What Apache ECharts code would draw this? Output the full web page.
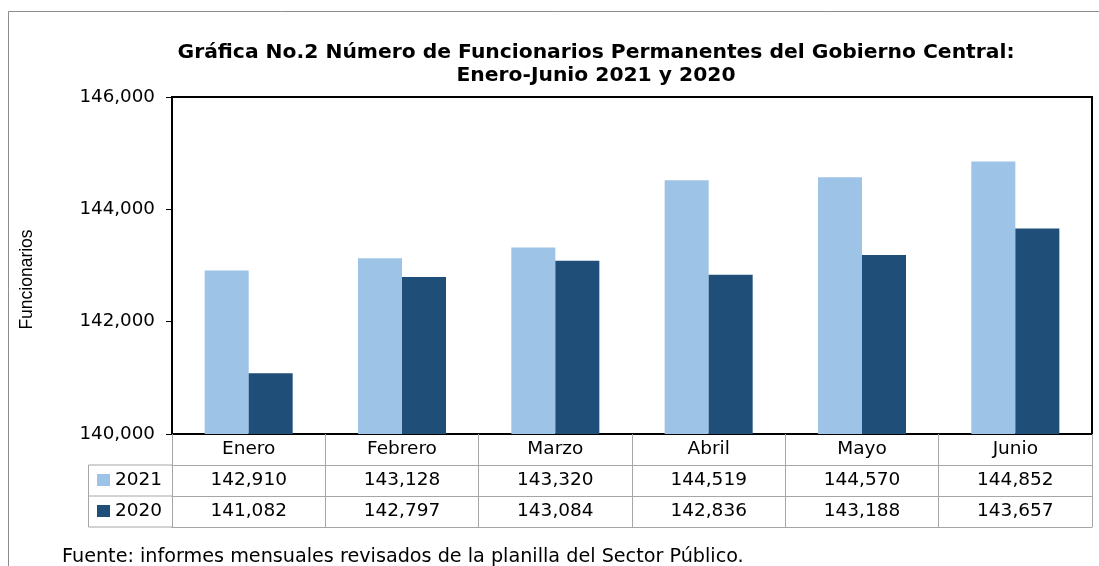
<!DOCTYPE html>
<html><head><meta charset="utf-8">
<script src="https://cdn.jsdelivr.net/npm/echarts@6/dist/echarts.min.js"></script>
<style>html,body{margin:0;padding:0;background:#fff}#c{width:1099px;height:566px}</style>
</head><body><div id="c"></div>
<script>
const months = ['Enero','Febrero','Marzo','Abril','Mayo','Junio'];
const values2021 = [142910,143128,143320,144519,144570,144852];
const values2020 = [141082,142797,143084,142836,143188,143657];
const seriesNames = ['2021','2020'];
const yTicks = {min:140000, max:146000, interval:2000};
const titleText = 'Gráfica No.2 Número de Funcionarios Permanentes del Gobierno Central:\nEnero-Junio 2021 y 2020';
const yName = 'Funcionarios';
const sourceText = 'Fuente: informes mensuales revisados de la planilla del Sector Público.';

const fmt = v => Number(v).toLocaleString('en-US');
const grey = '#a6a6a6';
const tableFont = {fontFamily:'DejaVu Sans', fontSize:18.5, color:'#000'};
const ROW = 31;

function tableAxis(offset, labels, showTick){
  return {
    type:'category', data: months, gridIndex:0, position:'bottom', offset: offset,
    axisLine:{show:true, lineStyle:{color: offset===0 ? '#000' : grey, width: offset===0 ? 2 : 1}},
    axisTick:{show: showTick, length: ROW, interval:0, lineStyle:{color:grey, width:1}},
    axisLabel:{show: !!labels, interval:0, margin: ROW/2, verticalAlign:'middle', ...tableFont,
      formatter: (v, i) => labels ? labels[i] : ''},
    splitLine:{show:false}
  };
}

const chart = echarts.init(document.getElementById('c'));
chart.setOption({
  animation:false,
  backgroundColor:'#fff',
  title:[
    {text:titleText, left:591, top:36, textAlign:'center',
     textStyle:{fontFamily:'DejaVu Sans', fontWeight:'bold', fontSize:20.3, lineHeight:23, color:'#000'}},
    {text:sourceText, left:57, top:543,
     textStyle:{fontFamily:'DejaVu Sans', fontWeight:'normal', fontSize:19.2, color:'#000'}}
  ],
  legend:{
    orient:'vertical', left:97, top:470, padding:0, itemGap:11,
    itemWidth:13, itemHeight:12, icon:'rect',
    data: seriesNames,
    textStyle:{...tableFont, lineHeight:20}
  },
  grid:{left:172, right:7, top:97, bottom:132, show:true, borderColor:'#000', borderWidth:2, containLabel:false},
  xAxis:[
    tableAxis(0, months, true),
    tableAxis(ROW, values2021.map(fmt), true),
    tableAxis(ROW*2, values2020.map(fmt), true),
    tableAxis(ROW*3, null, false)
  ],
  yAxis:{
    type:'value', min:yTicks.min, max:yTicks.max, interval:yTicks.interval,
    name:yName, nameLocation:'middle', nameGap:136, nameRotate:90,
    nameTextStyle:{fontFamily:'Liberation Sans', fontSize:17.5, color:'#000', padding:[0,28,0,0]},
    axisLine:{show:true, lineStyle:{color:'#000', width:2}},
    axisTick:{show:true, length:6, lineStyle:{color:'#000', width:1}},
    axisLabel:{margin:17, formatter: v => fmt(v), fontFamily:'DejaVu Sans', fontSize:18.3, color:'#000'},
    splitLine:{show:false}
  },
  series:[
    {name:seriesNames[0], type:'bar', data:values2021, itemStyle:{color:'#9dc3e6'},
     barGap:'0%', barCategoryGap:'42.6%'},
    {name:seriesNames[1], type:'bar', data:values2020, itemStyle:{color:'#1f4e79'},
     barGap:'0%', barCategoryGap:'42.6%'}
  ],
  graphic:[
    {type:'polyline', shape:{points:[[172,434+ROW],[88.5,434+ROW],[88.5,434+ROW*3],[172,434+ROW*3]]},
     style:{stroke:grey, lineWidth:1, fill:null}, silent:true},
    {type:'line', shape:{x1:88.5, y1:434+ROW*2, x2:172, y2:434+ROW*2},
     style:{stroke:grey, lineWidth:1}, silent:true},
    {type:'rect', shape:{x:8.5, y:11.5, width:1200, height:600},
     style:{stroke:'#8c8c8c', lineWidth:1, fill:null}, silent:true, z:-1}
  ]
});
</script></body></html>
